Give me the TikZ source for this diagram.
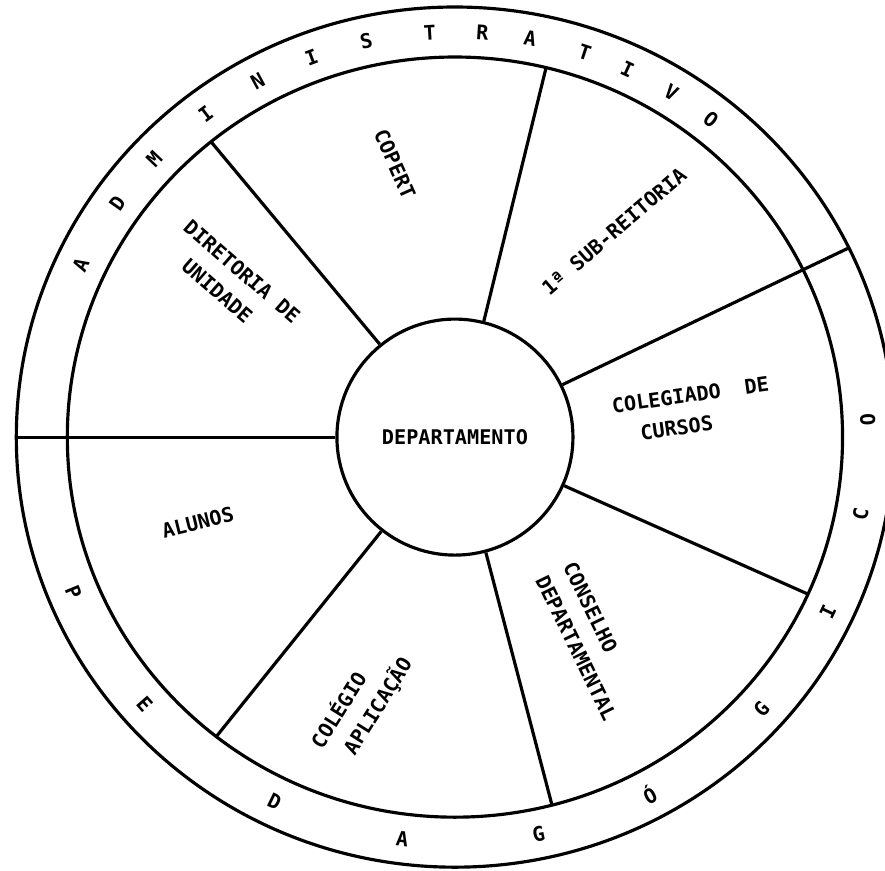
\documentclass[tikz,border=0pt]{standalone}
\usepackage{fontspec}
\setmonofont{DejaVu Sans Mono}
\newcommand\rout{430}
\newcommand\rmid{380}
\newcommand\rtxt{405}

\begin{document}
\begin{tikzpicture}[x=0.0204cm,y=0.02cm,
		mycircle/.style={circle,draw=black,line width=1.8pt,minimum size=4.72cm,inner sep=0cm,font=\ttfamily\bfseries\fontsize{11.5}{17.5}\selectfont},
		myletter/.style={text=black,inner sep=0cm,font=\ttfamily\bfseries\fontsize{11.5}{17.5}\selectfont},
		mylabel/.style={text=black,align=left,inner sep=0cm,font=\ttfamily\bfseries\fontsize{11.5}{17.5}\selectfont},
		myline/.style={black,line width=1.8pt}]
		\useasboundingbox (-446,-433) rectangle (421.6,437);
		\draw[myline] (0,0) circle (\rout);
		\draw[myline] (0,0) circle (\rmid);
		\node(dep)[mycircle] at (0,0) {DEPARTAMENTO};
		\coordinate(s1) at (180:\rout);
		\coordinate(s2) at (129:\rmid);
		\coordinate(s3) at (76.4:\rmid);
		\coordinate(s4) at (26.1:\rout);
		\coordinate(s5) at (-24.4:\rmid);
		\coordinate(s6) at (-75.5:\rmid);
		\coordinate(s7) at (-128:\rmid);
		\path [myline] (dep.180) edge (s1);
		\path [myline] (dep.129) edge (s2);
		\path [myline] (dep.76.4) edge (s3);
		\path [myline] (dep.26.1) edge (s4);
		\path [myline] (dep.-24.4) edge (s5);
		\path [myline] (dep.-75.5) edge (s6);
		\path [myline] (dep.-128) edge (s7);
		\node(diret)[mylabel,rotate=-41] at (-218.6,154) {DIRETORIA DE\\\phantom{XX}UNIDADE};
		\node(copert)[mylabel,rotate=-66] at (-58.8,273) {COPERT};
		\node(subr)[mylabel,rotate=40.6] at (156,206) {1ª SUB-REITORIA};
		\node(coleg)[mylabel,rotate=8] at (233,27) {COLEGIADO\ \ DE\\\phantom{XX}CURSOS};
		\node(alunos)[mylabel,rotate=14] at (-252,-85) {ALUNOS};
		\node(colap)[mylabel,rotate=58] at (-91.7,-265.8) {COLÉGIO\\\phantom{X}APLICAÇÃO};
		\node(consel)[mylabel,rotate=-64] at (132.6,-204) {\phantom{}CONSELHO\\DEPARTAMENTAL};
		\node(a1)[myletter,rotate=64.9] at (154.9:\rtxt) {A};
		\node(a2)[myletter,rotate=54.8] at (144.8:\rtxt) {D};
		\node(a3)[myletter,rotate=46.7] at (136.7:\rtxt) {M};
		\node(a4)[myletter,rotate=37.1] at (127.1:\rtxt) {I};
		\node(a5)[myletter,rotate=28.5] at (118.5:\rtxt) {N};
		\node(a6)[myletter,rotate=20.3] at (110.3:\rtxt) {I};
		\node(a7)[myletter,rotate=12.4] at (102.4:\rtxt) {S};
		\node(a8)[myletter,rotate=3.5] at (93.5:\rtxt) {T};
		\node(a9)[myletter,rotate=-3.8] at (86.2:\rtxt) {R};
		\node(a10)[myletter,rotate=-10.5] at (79.5:\rtxt) {A};
		\node(a11)[myletter,rotate=-18.3] at (71.7:\rtxt) {T};
		\node(a12)[myletter,rotate=-24.7] at (65.3:\rtxt) {I};
		\node(a13)[myletter,rotate=-31.6] at (58.4:\rtxt) {V};
		\node(a14)[myletter,rotate=-38.3] at (51.7:\rtxt) {O};
		\node(p1)[myletter,rotate=-67.4] at (-157.4:\rtxt) {P};
		\node(p2)[myletter,rotate=-48.7] at (-138.7:\rtxt) {E};
		\node(p3)[myletter,rotate=-25.9] at (-115.9:\rtxt) {D};
		\node(p4)[myletter,rotate=-7.3] at (-97.3:\rtxt) {A};
		\node(p5)[myletter,rotate=11.7] at (-78.3:\rtxt) {G};
		\node(p6)[myletter,rotate=28.1] at (-61.9:\rtxt) {Ó};
		\node(p7)[myletter,rotate=47.9] at (-42.1:\rtxt) {G};
		\node(p8)[myletter,rotate=64.5] at (-25.5:\rtxt) {I};
		\node(p9)[myletter,rotate=79.1] at (-10.9:\rtxt) {C};
		\node(p10)[myletter,rotate=92.4] at (2.4:\rtxt) {O};
	\end{tikzpicture}
\end{document}
